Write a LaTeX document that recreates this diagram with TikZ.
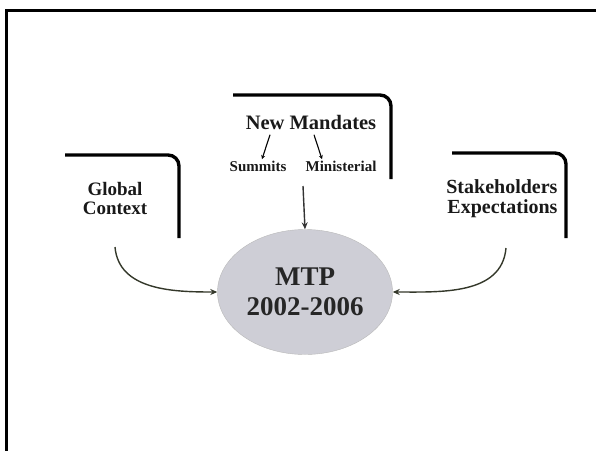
\documentclass[tikz,border=0pt]{standalone}
\usepackage{fontspec}
\setmainfont{Liberation Serif}
\usepackage{xcolor}
\usetikzlibrary{calc,arrows.meta,shapes.geometric,positioning}
\definecolor{curvecol}{RGB}{52,56,42}
\definecolor{discgray}{RGB}{206,206,214}

\begin{document}
\begin{tikzpicture}[x=1pt, y=-1pt,
    bracket/.style={line width=3.4pt, rounded corners=11pt},
    label/.style={font=\bfseries\fontsize{19}{21}\selectfont, align=center, text=black!90},
    smalllabel/.style={font=\bfseries\fontsize{15}{17}\selectfont, text=black!90},
    feed/.style={line width=1.4pt, curvecol, -{Stealth[length=7pt,width=6pt]}},
    tick/.style={line width=1.1pt, -{Stealth[length=4pt,width=4pt]}}]

\useasboundingbox (0,0) rectangle (596,450);

% Frame (top and left edges only)
\draw[line width=3pt] (6,452) -- (6,10) -- (598,10);

% Brackets
\draw[bracket] (65,155) -- (179,155) -- (179,238);
\draw[bracket] (233,95) -- (391,95) -- (391,179);
\draw[bracket] (452,153) -- (566,153) -- (566,238);

% Labels
\node[label] (global) at (115,198) {Global\\[-2pt]Context};
\node[label, font=\bfseries\fontsize{20.5}{23}\selectfont] (mandates) at (311,122) {New Mandates};
\node[smalllabel] (summits) at (258,166) {Summits};
\node[smalllabel] (ministerial) at (341,166) {Ministerial};
\node[label, font=\bfseries\fontsize{20}{22}\selectfont, align=right, anchor=east] (stake) at (561,199) {Stakeholders\\[-2pt]Expectations};

\draw[tick] ([xshift=-41pt,yshift=-2pt]mandates.south) -- ([xshift=4pt,yshift=-2pt]summits.north);
\draw[tick] ([xshift=3pt,yshift=-2pt]mandates.south) -- ([xshift=-19pt,yshift=-2pt]ministerial.north);

% Central disc
\node[ellipse, fill=discgray, draw=gray!55, line width=0.4pt, minimum width=175pt, minimum height=125pt,
      font=\bfseries\fontsize{27}{30}\selectfont, align=center, text=black!85] (mtp) at (305,292) {MTP\\2002-2006};

% Inputs
\coordinate (gfoot) at (115,247);
\coordinate (sfoot) at (506,248);
\coordinate (mtop) at (303,186);
\draw[feed] (gfoot) to[out=-85, in=180] (mtp.west);
\draw[feed] (sfoot) to[out=-95, in=0] (mtp.east);
\draw[feed, black!80] (mtop) -- (mtp.north);

\end{tikzpicture}
\end{document}
